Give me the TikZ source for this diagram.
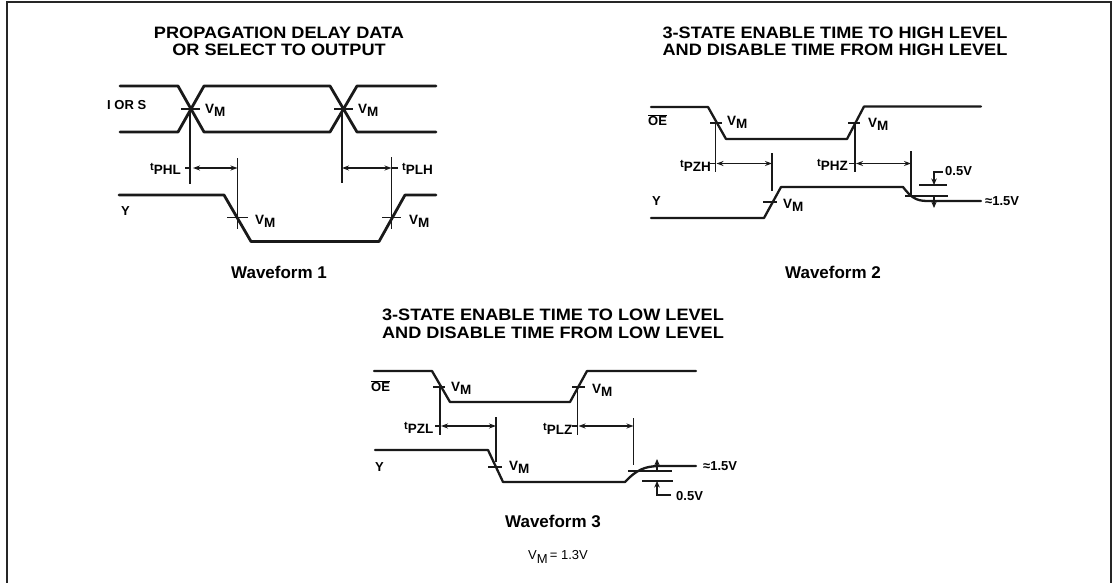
\documentclass[tikz,border=0pt]{standalone}
\usepackage{fontspec}
\setmainfont{Liberation Sans}[BoldFont={Liberation Sans Bold}]
\usetikzlibrary{arrows.meta}
\newcommand{\sbs}[2]{#1\raisebox{-3.2pt}{#2}}
\newcommand{\tsb}[1]{\raisebox{1.6pt}{\fontsize{11}{11}\bfseries\selectfont t}\raisebox{-2.2pt}{#1}}
\newcommand{\wide}[1]{\scalebox{1.1}[1]{#1}}
\tikzset{
  x=1pt,y=-1pt,
  wave/.style={line width=2.3pt,line join=round,line cap=round,black!90},
  wavethick/.style={wave,line width=2.8pt},
  thin line/.style={line width=1.2pt,black!90},
  dim/.style={thin line,{Stealth[length=7pt,width=5pt]}-{Stealth[length=7pt,width=5pt]}},
  onearrow/.style={thin line,-{Stealth[length=6.5pt,width=5.5pt]}},
  frameline/.style={line width=2pt,black!85},
  title/.style={inner sep=0pt,font=\fontsize{16.5}{16.5}\bfseries\selectfont,align=center},
  wfcap/.style={inner sep=0pt,font=\fontsize{17}{17}\bfseries\selectfont},
  lab/.style={inner sep=0pt,font=\fontsize{13}{13}\bfseries\selectfont},
  vm/.style={inner sep=0pt,font=\fontsize{13.5}{13.5}\bfseries\selectfont},
}
\begin{document}
\begin{tikzpicture}
\useasboundingbox (0,0) rectangle (1118,583);
\draw[frameline] (7,583) -- (7,2.5) -- (1111,2.5) -- (1111,583);

% ---------- Waveform 1
\node[title] (t1a) at (279,33) {\wide{PROPAGATION DELAY DATA}};
\node[title] (t1b) at (279,50) {\wide{OR SELECT TO OUTPUT}};
\draw[wavethick] (120,86) -- (178,86) -- (204,132) -- (330,132) -- (357,86) -- (436,86);
\draw[wavethick] (120,132) -- (178,132) -- (204,86) -- (330,86) -- (357,132) -- (436,132);
\draw[wavethick] (119,195) -- (224,195) -- (251,241.5) -- (379,241.5) -- (405,195) -- (436,195);
\draw[thin line] (181,109) -- (200,109) (334,109) -- (353,109) (227,217.5) -- (248,217.5) (382,217.5) -- (401,217.5);
\coordinate (a1) at (190,168); \coordinate (a2) at (237.5,168);
\coordinate (b1) at (342,168); \coordinate (b2) at (391.5,168);
\draw[thin line] (190,109) -- (a1) -- (190,184);
\draw[thin line] (237.5,158) -- (a2) -- (237.5,229);
\draw[thin line] (342,109) -- (b1) -- (342,183);
\draw[thin line] (391.5,157) -- (b2) -- (391.5,229);
\draw[thin line] (a1) -- ++(-5,0) (b2) -- ++(6,0);
\draw[dim] ([xshift=3pt]a1) -- (a2);
\draw[dim] (b1) -- (b2);
\node[lab,anchor=west] (ios) at (107,105) {I OR S};
\node[lab,anchor=west] (y1) at (121,211) {Y};
\node[vm,anchor=west] (v1) at (205,110) {\sbs{V}{M}};
\node[vm,anchor=west] (v2) at (358,110) {\sbs{V}{M}};
\node[vm,anchor=west] (v3) at (255,221) {\sbs{V}{M}};
\node[vm,anchor=west] (v4) at (409,221) {\sbs{V}{M}};
\node[vm,anchor=west] (tphl) at (150,169) {\tsb{PHL}};
\node[vm,anchor=west] (tplh) at (402,169) {\tsb{PLH}};
\node[wfcap] (c1) at (279,272) {Waveform 1};

% ---------- Waveform 2
\node[title] (t2a) at (835,33) {\wide{3-STATE ENABLE TIME TO HIGH LEVEL}};
\node[title] (t2b) at (835,50) {\wide{AND DISABLE TIME FROM HIGH LEVEL}};
\draw[wave] (651,107) -- (708,107) -- (726,139) -- (847,139) -- (864,106.5) -- (981,106.5);
\draw[wave] (651,218) -- (764,218) -- (781,187) -- (903,187) .. controls (910,196) and (915,201) .. (927,201) -- (981,201);
\draw[thin line] (710,123) -- (722,123) (848,123) -- (860,123) (763,202) -- (777,202);
\coordinate (c1a) at (715.5,163.5); \coordinate (c1b) at (772,163.5);
\coordinate (c2a) at (855,163.5); \coordinate (c2b) at (911,163.5);
\draw[thin line] (715.5,123) -- (c1a) -- (715.5,172);
\draw[thin line] (772,153) -- (c1b) -- (772,191);
\draw[thin line] (855,123) -- (c2a) -- (855,172);
\draw[thin line] (911,151) -- (c2b) -- (911,195);
\draw[thin line] (c1a) -- ++(-6,0) (c2a) -- ++(-6,0);
\draw[dim] ([xshift=1pt]c1a) -- (c1b);
\draw[dim] ([xshift=1pt]c2a) -- (c2b);
\coordinate (hi1) at (934,185); \coordinate (hi2) at (934,196);
\draw[thin line] (919,185) -- (947,185) (905,196) -- (948,196);
\draw[onearrow] (943,172) -- (934,172) -- (hi1);
\draw[onearrow] (hi2) -- (934,208);
\node[lab,anchor=west] (h05) at (945,171) {0.5V};
\node[lab,anchor=west] (h15) at (985,201.5) {≈1.5V};
\node[lab,anchor=west] (oe2) at (648,120) {$\overline{\mbox{OE}}$};
\node[lab,anchor=west] (y2) at (652,201) {Y};
\node[vm,anchor=west] (v5) at (727,122) {\sbs{V}{M}};
\node[vm,anchor=west] (v6) at (868,124) {\sbs{V}{M}};
\node[vm,anchor=west] (v7) at (783,205) {\sbs{V}{M}};
\node[vm,anchor=west] (tpzh) at (680,166) {\tsb{PZH}};
\node[vm,anchor=west] (tphz) at (817,165) {\tsb{PHZ}};
\node[wfcap] (c2) at (833,272) {Waveform 2};

% ---------- Waveform 3
\node[title] (t3a) at (553,315) {\wide{3-STATE ENABLE TIME TO LOW LEVEL}};
\node[title] (t3b) at (553,333) {\wide{AND DISABLE TIME FROM LOW LEVEL}};
\draw[wave] (374,371) -- (432,371) -- (450,402) -- (570,402) -- (587,371) -- (696,371);
\draw[wave] (375,450) -- (488,450) -- (503,482) -- (625,482) .. controls (636,470) and (645,466) .. (660,466) -- (696,466);
\draw[thin line] (433,387) -- (445,387) (572,387) -- (585,387) (488,467) -- (502,467);
\coordinate (d1a) at (440,426); \coordinate (d1b) at (496,426);
\coordinate (d2a) at (577.5,426); \coordinate (d2b) at (633.5,426);
\draw[thin line] (440,387) -- (d1a) -- (440,435);
\draw[thin line] (496,417) -- (d1b) -- (496,462);
\draw[thin line] (577.5,387) -- (d2a) -- (577.5,435);
\draw[thin line] (633.5,418) -- (d2b) -- (633.5,465);
\draw[thin line] (d1a) -- ++(-5,0) (d2a) -- ++(-6,0);
\draw[dim] ([xshift=1pt]d1a) -- (d1b);
\draw[dim] ([xshift=1pt]d2a) -- (d2b);
\coordinate (lo1) at (657,471); \coordinate (lo2) at (657,481);
\draw[thin line] (628,471) -- (672,471) (642,481) -- (673,481);
\draw[onearrow] (lo1) -- (657,459);
\draw[onearrow] (671,495) -- (657,495) -- (lo2);
\node[lab,anchor=west] (l05) at (676,496) {0.5V};
\node[lab,anchor=west] (l15) at (703,466.5) {≈1.5V};
\node[lab,anchor=west] (oe3) at (371,386) {$\overline{\mbox{OE}}$};
\node[lab,anchor=west] (y3) at (375,467) {Y};
\node[vm,anchor=west] (v8) at (451,388) {\sbs{V}{M}};
\node[vm,anchor=west] (v9) at (592,390) {\sbs{V}{M}};
\node[vm,anchor=west] (v10) at (509,467) {\sbs{V}{M}};
\node[vm,anchor=west] (tpzl) at (404,428) {\tsb{PZL}};
\node[vm,anchor=west] (tplz) at (543,429) {\tsb{PLZ}};
\node[wfcap] (c3) at (553,521) {Waveform 3};
\node[inner sep=0pt,font=\fontsize{13}{13}\selectfont,anchor=west] (vmeq) at (528,557) {\sbs{V}{M}\,= 1.3V};
\end{tikzpicture}
\end{document}
